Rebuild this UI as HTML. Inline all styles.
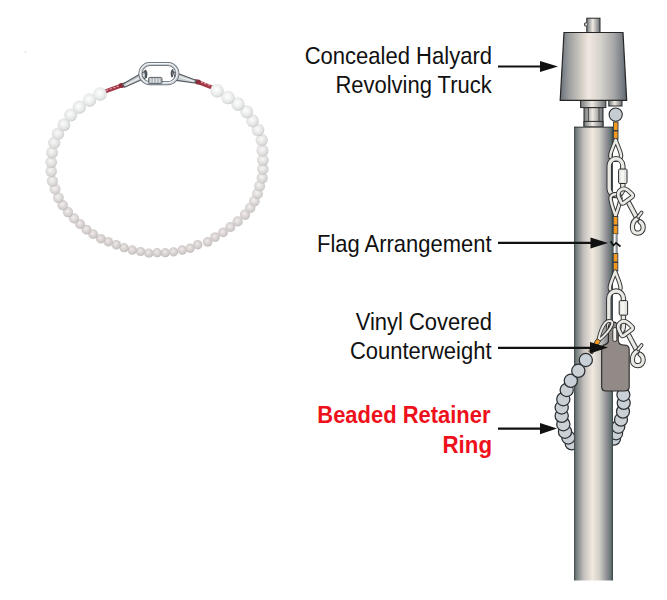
<!DOCTYPE html>
<html><head><meta charset="utf-8"><style>
html,body{margin:0;padding:0;background:#fff;}
body{width:667px;height:600px;overflow:hidden;position:relative;}
svg{position:absolute;left:0;top:0;}
.t{font-family:"Liberation Sans",sans-serif;font-size:24.4px;fill:#111111;}
.r{font-family:"Liberation Sans",sans-serif;font-size:24.4px;font-weight:bold;fill:#ee111b;}
</style></head><body>
<svg width="667" height="600" viewBox="0 0 667 600">
<defs>
<radialGradient id="b27" cx="0.45" cy="0.42" r="0.62"><stop offset="0" stop-color="#efebea"/><stop offset="0.5" stop-color="#d8d2d1"/><stop offset="0.82" stop-color="#cbc5c4"/><stop offset="1" stop-color="#a39c9b"/></radialGradient>
<radialGradient id="b25" cx="0.45" cy="0.42" r="0.62"><stop offset="0" stop-color="#efebea"/><stop offset="0.5" stop-color="#d8d2d1"/><stop offset="0.82" stop-color="#cbc5c4"/><stop offset="1" stop-color="#a39c9b"/></radialGradient>
<radialGradient id="b26" cx="0.45" cy="0.42" r="0.62"><stop offset="0" stop-color="#efebea"/><stop offset="0.5" stop-color="#d8d2d1"/><stop offset="0.82" stop-color="#cbc5c4"/><stop offset="1" stop-color="#a39c9b"/></radialGradient>
<radialGradient id="b24" cx="0.45" cy="0.42" r="0.62"><stop offset="0" stop-color="#efebea"/><stop offset="0.5" stop-color="#d8d2d1"/><stop offset="0.82" stop-color="#cbc5c4"/><stop offset="1" stop-color="#a39c9b"/></radialGradient>
<radialGradient id="b28" cx="0.45" cy="0.42" r="0.62"><stop offset="0" stop-color="#efebea"/><stop offset="0.5" stop-color="#d8d2d1"/><stop offset="0.82" stop-color="#cbc5c4"/><stop offset="1" stop-color="#a39c9b"/></radialGradient>
<radialGradient id="b23" cx="0.45" cy="0.42" r="0.62"><stop offset="0" stop-color="#efebea"/><stop offset="0.5" stop-color="#d8d2d1"/><stop offset="0.82" stop-color="#cbc5c4"/><stop offset="1" stop-color="#a39c9b"/></radialGradient>
<radialGradient id="b29" cx="0.45" cy="0.42" r="0.62"><stop offset="0" stop-color="#efebea"/><stop offset="0.5" stop-color="#d8d2d1"/><stop offset="0.82" stop-color="#cbc5c4"/><stop offset="1" stop-color="#a39c9b"/></radialGradient>
<radialGradient id="b22" cx="0.45" cy="0.42" r="0.62"><stop offset="0" stop-color="#efebea"/><stop offset="0.5" stop-color="#d8d2d1"/><stop offset="0.82" stop-color="#cbc5c4"/><stop offset="1" stop-color="#a39c9b"/></radialGradient>
<radialGradient id="b30" cx="0.45" cy="0.42" r="0.62"><stop offset="0" stop-color="#efebea"/><stop offset="0.5" stop-color="#d8d2d1"/><stop offset="0.82" stop-color="#cbc5c4"/><stop offset="1" stop-color="#a39c9b"/></radialGradient>
<radialGradient id="b21" cx="0.45" cy="0.42" r="0.62"><stop offset="0" stop-color="#efebea"/><stop offset="0.5" stop-color="#d8d2d1"/><stop offset="0.82" stop-color="#cbc5c4"/><stop offset="1" stop-color="#a39c9b"/></radialGradient>
<radialGradient id="b31" cx="0.45" cy="0.42" r="0.62"><stop offset="0" stop-color="#efebea"/><stop offset="0.5" stop-color="#d8d2d1"/><stop offset="0.82" stop-color="#cbc5c4"/><stop offset="1" stop-color="#a39c9b"/></radialGradient>
<radialGradient id="b20" cx="0.45" cy="0.42" r="0.62"><stop offset="0" stop-color="#efebea"/><stop offset="0.5" stop-color="#d8d2d1"/><stop offset="0.82" stop-color="#cbc5c4"/><stop offset="1" stop-color="#a39c9b"/></radialGradient>
<radialGradient id="b32" cx="0.45" cy="0.42" r="0.62"><stop offset="0" stop-color="#efebea"/><stop offset="0.5" stop-color="#d8d2d1"/><stop offset="0.82" stop-color="#cbc5c4"/><stop offset="1" stop-color="#a39c9b"/></radialGradient>
<radialGradient id="b33" cx="0.45" cy="0.42" r="0.62"><stop offset="0" stop-color="#efebea"/><stop offset="0.5" stop-color="#d8d2d1"/><stop offset="0.82" stop-color="#cbc5c4"/><stop offset="1" stop-color="#a39c9b"/></radialGradient>
<radialGradient id="b19" cx="0.45" cy="0.42" r="0.62"><stop offset="0" stop-color="#efebea"/><stop offset="0.5" stop-color="#d8d3d2"/><stop offset="0.82" stop-color="#cbc6c5"/><stop offset="1" stop-color="#a39d9c"/></radialGradient>
<radialGradient id="b34" cx="0.45" cy="0.42" r="0.62"><stop offset="0" stop-color="#f0eceb"/><stop offset="0.5" stop-color="#d9d3d2"/><stop offset="0.82" stop-color="#ccc6c5"/><stop offset="1" stop-color="#a49d9c"/></radialGradient>
<radialGradient id="b18" cx="0.45" cy="0.42" r="0.62"><stop offset="0" stop-color="#f0eceb"/><stop offset="0.5" stop-color="#d9d4d3"/><stop offset="0.82" stop-color="#ccc6c5"/><stop offset="1" stop-color="#a49d9c"/></radialGradient>
<radialGradient id="b35" cx="0.45" cy="0.42" r="0.62"><stop offset="0" stop-color="#f0ecec"/><stop offset="0.5" stop-color="#dad4d3"/><stop offset="0.82" stop-color="#ccc7c6"/><stop offset="1" stop-color="#a49e9d"/></radialGradient>
<radialGradient id="b17" cx="0.45" cy="0.42" r="0.62"><stop offset="0" stop-color="#f0edec"/><stop offset="0.5" stop-color="#dad5d4"/><stop offset="0.82" stop-color="#cdc8c7"/><stop offset="1" stop-color="#a59f9e"/></radialGradient>
<radialGradient id="b36" cx="0.45" cy="0.42" r="0.62"><stop offset="0" stop-color="#f1edec"/><stop offset="0.5" stop-color="#dad5d4"/><stop offset="0.82" stop-color="#cdc8c7"/><stop offset="1" stop-color="#a59f9e"/></radialGradient>
<radialGradient id="b16" cx="0.45" cy="0.42" r="0.62"><stop offset="0" stop-color="#f1eeed"/><stop offset="0.5" stop-color="#dbd6d5"/><stop offset="0.82" stop-color="#cdc9c8"/><stop offset="1" stop-color="#a5a09f"/></radialGradient>
<radialGradient id="b37" cx="0.45" cy="0.42" r="0.62"><stop offset="0" stop-color="#f1eeed"/><stop offset="0.5" stop-color="#dbd7d6"/><stop offset="0.82" stop-color="#cec9c8"/><stop offset="1" stop-color="#a6a09f"/></radialGradient>
<radialGradient id="b15" cx="0.45" cy="0.42" r="0.62"><stop offset="0" stop-color="#f2efee"/><stop offset="0.5" stop-color="#dcd7d6"/><stop offset="0.82" stop-color="#cecac9"/><stop offset="1" stop-color="#a6a1a0"/></radialGradient>
<radialGradient id="b38" cx="0.45" cy="0.42" r="0.62"><stop offset="0" stop-color="#f2efee"/><stop offset="0.5" stop-color="#dcd8d7"/><stop offset="0.82" stop-color="#cecac9"/><stop offset="1" stop-color="#a6a1a0"/></radialGradient>
<radialGradient id="b14" cx="0.45" cy="0.42" r="0.62"><stop offset="0" stop-color="#f3efef"/><stop offset="0.5" stop-color="#ddd9d8"/><stop offset="0.82" stop-color="#cfcbca"/><stop offset="1" stop-color="#a7a2a1"/></radialGradient>
<radialGradient id="b39" cx="0.45" cy="0.42" r="0.62"><stop offset="0" stop-color="#f3f0ef"/><stop offset="0.5" stop-color="#ddd9d8"/><stop offset="0.82" stop-color="#cfcccb"/><stop offset="1" stop-color="#a7a3a2"/></radialGradient>
<radialGradient id="b13" cx="0.45" cy="0.42" r="0.62"><stop offset="0" stop-color="#f3f0f0"/><stop offset="0.5" stop-color="#dedad9"/><stop offset="0.82" stop-color="#d0cdcc"/><stop offset="1" stop-color="#a8a4a3"/></radialGradient>
<radialGradient id="b40" cx="0.45" cy="0.42" r="0.62"><stop offset="0" stop-color="#f4f1f0"/><stop offset="0.5" stop-color="#dedbda"/><stop offset="0.82" stop-color="#d0cdcc"/><stop offset="1" stop-color="#a8a4a3"/></radialGradient>
<radialGradient id="b12" cx="0.45" cy="0.42" r="0.62"><stop offset="0" stop-color="#f4f1f1"/><stop offset="0.5" stop-color="#dfdcdb"/><stop offset="0.82" stop-color="#d1cecd"/><stop offset="1" stop-color="#a8a5a4"/></radialGradient>
<radialGradient id="b41" cx="0.45" cy="0.42" r="0.62"><stop offset="0" stop-color="#f5f2f1"/><stop offset="0.5" stop-color="#e0dddc"/><stop offset="0.82" stop-color="#d1cfce"/><stop offset="1" stop-color="#a9a6a5"/></radialGradient>
<radialGradient id="b11" cx="0.45" cy="0.42" r="0.62"><stop offset="0" stop-color="#f5f2f2"/><stop offset="0.5" stop-color="#e0dedd"/><stop offset="0.82" stop-color="#d2cfce"/><stop offset="1" stop-color="#a9a6a5"/></radialGradient>
<radialGradient id="b42" cx="0.45" cy="0.42" r="0.62"><stop offset="0" stop-color="#f6f3f3"/><stop offset="0.5" stop-color="#e1dfde"/><stop offset="0.82" stop-color="#d2d0cf"/><stop offset="1" stop-color="#aaa7a6"/></radialGradient>
<radialGradient id="b10" cx="0.45" cy="0.42" r="0.62"><stop offset="0" stop-color="#f6f4f3"/><stop offset="0.5" stop-color="#e1dfde"/><stop offset="0.82" stop-color="#d3d1d0"/><stop offset="1" stop-color="#aaa8a7"/></radialGradient>
<radialGradient id="b43" cx="0.45" cy="0.42" r="0.62"><stop offset="0" stop-color="#f7f4f4"/><stop offset="0.5" stop-color="#e2e1e0"/><stop offset="0.82" stop-color="#d4d2d1"/><stop offset="1" stop-color="#aba9a8"/></radialGradient>
<radialGradient id="b9" cx="0.45" cy="0.42" r="0.62"><stop offset="0" stop-color="#f7f5f4"/><stop offset="0.5" stop-color="#e3e1e0"/><stop offset="0.82" stop-color="#d4d3d2"/><stop offset="1" stop-color="#abaaa9"/></radialGradient>
<radialGradient id="b44" cx="0.45" cy="0.42" r="0.62"><stop offset="0" stop-color="#f8f6f5"/><stop offset="0.5" stop-color="#e4e3e2"/><stop offset="0.82" stop-color="#d5d4d3"/><stop offset="1" stop-color="#acabaa"/></radialGradient>
<radialGradient id="b8" cx="0.45" cy="0.42" r="0.62"><stop offset="0" stop-color="#f8f6f6"/><stop offset="0.5" stop-color="#e4e3e2"/><stop offset="0.82" stop-color="#d5d4d3"/><stop offset="1" stop-color="#acabaa"/></radialGradient>
<radialGradient id="b45" cx="0.45" cy="0.42" r="0.62"><stop offset="0" stop-color="#f9f7f7"/><stop offset="0.5" stop-color="#e5e5e4"/><stop offset="0.82" stop-color="#d6d6d5"/><stop offset="1" stop-color="#adadac"/></radialGradient>
<radialGradient id="b7" cx="0.45" cy="0.42" r="0.62"><stop offset="0" stop-color="#f9f7f7"/><stop offset="0.5" stop-color="#e6e5e4"/><stop offset="0.82" stop-color="#d6d6d5"/><stop offset="1" stop-color="#adadac"/></radialGradient>
<radialGradient id="b46" cx="0.45" cy="0.42" r="0.62"><stop offset="0" stop-color="#faf8f8"/><stop offset="0.5" stop-color="#e7e7e6"/><stop offset="0.82" stop-color="#d7d8d7"/><stop offset="1" stop-color="#aeafae"/></radialGradient>
<radialGradient id="b6" cx="0.45" cy="0.42" r="0.62"><stop offset="0" stop-color="#faf9f8"/><stop offset="0.5" stop-color="#e7e7e6"/><stop offset="0.82" stop-color="#d7d8d7"/><stop offset="1" stop-color="#afafae"/></radialGradient>
<radialGradient id="b47" cx="0.45" cy="0.42" r="0.62"><stop offset="0" stop-color="#fbfaf9"/><stop offset="0.5" stop-color="#e8e9e8"/><stop offset="0.82" stop-color="#d8dad9"/><stop offset="1" stop-color="#afb1b0"/></radialGradient>
<radialGradient id="b5" cx="0.45" cy="0.42" r="0.62"><stop offset="0" stop-color="#fbfafa"/><stop offset="0.5" stop-color="#e9eae9"/><stop offset="0.82" stop-color="#d9dad9"/><stop offset="1" stop-color="#b0b1b0"/></radialGradient>
<radialGradient id="b48" cx="0.45" cy="0.42" r="0.62"><stop offset="0" stop-color="#fcfbfb"/><stop offset="0.5" stop-color="#e9ebea"/><stop offset="0.82" stop-color="#d9dbda"/><stop offset="1" stop-color="#b1b2b1"/></radialGradient>
<radialGradient id="b4" cx="0.45" cy="0.42" r="0.62"><stop offset="0" stop-color="#fcfbfb"/><stop offset="0.5" stop-color="#eaebea"/><stop offset="0.82" stop-color="#dadcdb"/><stop offset="1" stop-color="#b1b3b2"/></radialGradient>
<radialGradient id="b49" cx="0.45" cy="0.42" r="0.62"><stop offset="0" stop-color="#fdfcfc"/><stop offset="0.5" stop-color="#ebedec"/><stop offset="0.82" stop-color="#dbdddc"/><stop offset="1" stop-color="#b2b4b3"/></radialGradient>
<radialGradient id="b3" cx="0.45" cy="0.42" r="0.62"><stop offset="0" stop-color="#fdfdfd"/><stop offset="0.5" stop-color="#ebedec"/><stop offset="0.82" stop-color="#dbdedd"/><stop offset="1" stop-color="#b2b5b4"/></radialGradient>
<radialGradient id="b50" cx="0.45" cy="0.42" r="0.62"><stop offset="0" stop-color="#fefdfd"/><stop offset="0.5" stop-color="#eceeed"/><stop offset="0.82" stop-color="#dbdfde"/><stop offset="1" stop-color="#b3b6b5"/></radialGradient>
<radialGradient id="b2" cx="0.45" cy="0.42" r="0.62"><stop offset="0" stop-color="#fefefe"/><stop offset="0.5" stop-color="#edefee"/><stop offset="0.82" stop-color="#dcdfde"/><stop offset="1" stop-color="#b3b6b5"/></radialGradient>
<radialGradient id="b51" cx="0.45" cy="0.42" r="0.62"><stop offset="0" stop-color="#fefefe"/><stop offset="0.5" stop-color="#edf0ef"/><stop offset="0.82" stop-color="#dce0df"/><stop offset="1" stop-color="#b3b7b6"/></radialGradient>
<radialGradient id="b1" cx="0.45" cy="0.42" r="0.62"><stop offset="0" stop-color="#ffffff"/><stop offset="0.5" stop-color="#eef0ef"/><stop offset="0.82" stop-color="#dde1e0"/><stop offset="1" stop-color="#b4b8b7"/></radialGradient>
<radialGradient id="b52" cx="0.45" cy="0.42" r="0.62"><stop offset="0" stop-color="#ffffff"/><stop offset="0.5" stop-color="#eef1f0"/><stop offset="0.82" stop-color="#dde1e0"/><stop offset="1" stop-color="#b4b8b7"/></radialGradient>
<radialGradient id="b0" cx="0.45" cy="0.42" r="0.62"><stop offset="0" stop-color="#ffffff"/><stop offset="0.5" stop-color="#eef1f0"/><stop offset="0.82" stop-color="#dde1e0"/><stop offset="1" stop-color="#b4b8b7"/></radialGradient>
<linearGradient id="pg" x1="0" x2="1" y1="0" y2="0">
<stop offset="0" stop-color="#3d4347"/><stop offset="0.05" stop-color="#6f7b79"/><stop offset="0.25" stop-color="#c4bfbd"/>
<stop offset="0.47" stop-color="#f1e9df"/><stop offset="0.65" stop-color="#d2d0c8"/><stop offset="0.85" stop-color="#8c8b92"/>
<stop offset="0.95" stop-color="#627371"/><stop offset="1" stop-color="#383d40"/></linearGradient>
<linearGradient id="tg" x1="0" x2="1" y1="0" y2="0">
<stop offset="0" stop-color="#68717a"/><stop offset="0.12" stop-color="#999b9d"/><stop offset="0.3" stop-color="#cdc9c1"/>
<stop offset="0.43" stop-color="#f0e7e0"/><stop offset="0.6" stop-color="#d6d3cc"/><stop offset="0.8" stop-color="#a9a9aa"/>
<stop offset="0.93" stop-color="#7a8086"/><stop offset="1" stop-color="#5b6269"/></linearGradient>
<linearGradient id="hg" x1="0" x2="1" y1="0" y2="0">
<stop offset="0" stop-color="#73787b"/><stop offset="0.45" stop-color="#efe9e2"/><stop offset="1" stop-color="#6a6f73"/></linearGradient>
<linearGradient id="redw" x1="0" x2="0" y1="0" y2="1"><stop offset="0" stop-color="#c2606c"/><stop offset="1" stop-color="#7a2330"/></linearGradient>
</defs>
<!-- bracelet -->
<path d="M104 91.8 L124 84.6" stroke="#a23848" stroke-width="4" stroke-linecap="round"/>
<path d="M106 90.6 L122.5 84.6" stroke="#e3a0aa" stroke-width="1.1" stroke-dasharray="2.4 1.4"/>
<path d="M195.5 81.2 L213 87.8" stroke="#a23848" stroke-width="4" stroke-linecap="round"/>
<path d="M197 80.6 L212 86.2" stroke="#e3a0aa" stroke-width="1.1" stroke-dasharray="2.4 1.4"/>
<ellipse cx="121.5" cy="85.6" rx="3" ry="2.5" fill="#8e2c3b"/>
<ellipse cx="198" cy="82" rx="3" ry="2.5" fill="#8e2c3b"/>
<path d="M122.5 84.2 L144.5 71.6 L146.5 77.6 L124.5 87.2 Z" fill="#c9cfd3" stroke="#50575c" stroke-width="1.1" stroke-linejoin="round"/>
<path d="M126 85 L144 75.5" stroke="#f4f6f7" stroke-width="1"/>
<path d="M196.5 80.4 L172.8 71.4 L176.5 80.4 L194.5 83 Z" fill="#c9cfd3" stroke="#50575c" stroke-width="1.1" stroke-linejoin="round"/>
<path d="M193.5 81.2 L176 76" stroke="#f4f6f7" stroke-width="1"/>
<rect x="140.4" y="64" width="37" height="19.2" rx="9.6" fill="none" stroke="#5a6168" stroke-width="4"/>
<rect x="140.4" y="64" width="37" height="19.2" rx="9.6" fill="none" stroke="#c3cad0" stroke-width="2.6"/>
<rect x="140.2" y="63.6" width="37" height="19.2" rx="9.6" fill="none" stroke="#fbfcfd" stroke-width="1"/>
<path d="M145 70 Q147.5 73.5 145.5 77.5" stroke="#4a5055" stroke-width="2" fill="none"/>
<path d="M173 69.5 Q170.5 73 172.5 77" stroke="#4a5055" stroke-width="2" fill="none"/>
<rect x="148.6" y="77.4" width="13.4" height="6.2" rx="1.2" fill="#b3b9bd" stroke="#50575c" stroke-width="0.9"/>
<path d="M150.8 78.6 V82.6 M153.6 78.6 V82.6 M156.4 78.6 V82.6 M159.2 78.6 V82.6" stroke="#eef1f3" stroke-width="0.9"/>
<circle cx="148.7" cy="253" r="4.60" fill="url(#b27)"/>
<circle cx="165.2" cy="252.7" r="4.60" fill="url(#b25)"/>
<circle cx="157" cy="252.7" r="4.60" fill="url(#b26)"/>
<circle cx="173.5" cy="251.8" r="4.62" fill="url(#b24)"/>
<circle cx="140.5" cy="251.5" r="4.62" fill="url(#b28)"/>
<circle cx="182.2" cy="250" r="4.64" fill="url(#b23)"/>
<circle cx="132.2" cy="250" r="4.64" fill="url(#b29)"/>
<circle cx="190" cy="248.2" r="4.67" fill="url(#b22)"/>
<circle cx="124" cy="247.7" r="4.67" fill="url(#b30)"/>
<circle cx="197.7" cy="244.7" r="4.71" fill="url(#b21)"/>
<circle cx="116.2" cy="244.7" r="4.71" fill="url(#b31)"/>
<circle cx="207.6" cy="241.8" r="4.75" fill="url(#b20)"/>
<circle cx="108.2" cy="241.7" r="4.75" fill="url(#b32)"/>
<circle cx="100.7" cy="238.7" r="4.80" fill="url(#b33)"/>
<circle cx="215" cy="237" r="4.82" fill="url(#b19)"/>
<circle cx="93" cy="234" r="4.86" fill="url(#b34)"/>
<circle cx="223" cy="232.4" r="4.88" fill="url(#b18)"/>
<circle cx="86.4" cy="229.6" r="4.92" fill="url(#b35)"/>
<circle cx="230.3" cy="227" r="4.96" fill="url(#b17)"/>
<circle cx="80" cy="224" r="5.00" fill="url(#b36)"/>
<circle cx="237.6" cy="221.4" r="5.03" fill="url(#b16)"/>
<circle cx="74" cy="218.4" r="5.07" fill="url(#b37)"/>
<circle cx="245" cy="214.5" r="5.13" fill="url(#b15)"/>
<circle cx="68" cy="212" r="5.16" fill="url(#b38)"/>
<circle cx="250.2" cy="207.6" r="5.22" fill="url(#b14)"/>
<circle cx="62.6" cy="205" r="5.26" fill="url(#b39)"/>
<circle cx="254.4" cy="200.9" r="5.31" fill="url(#b13)"/>
<circle cx="58.4" cy="197.6" r="5.36" fill="url(#b40)"/>
<circle cx="257.5" cy="193.5" r="5.41" fill="url(#b12)"/>
<circle cx="55" cy="189" r="5.47" fill="url(#b41)"/>
<circle cx="259.6" cy="185.8" r="5.52" fill="url(#b11)"/>
<circle cx="52.4" cy="181" r="5.58" fill="url(#b42)"/>
<circle cx="262.2" cy="177.8" r="5.63" fill="url(#b10)"/>
<circle cx="51.2" cy="171.2" r="5.72" fill="url(#b43)"/>
<circle cx="262.8" cy="169" r="5.75" fill="url(#b9)"/>
<circle cx="51.2" cy="162.2" r="5.84" fill="url(#b44)"/>
<circle cx="262.8" cy="160" r="5.87" fill="url(#b8)"/>
<circle cx="52" cy="152.5" r="5.97" fill="url(#b45)"/>
<circle cx="262.5" cy="150.5" r="6.00" fill="url(#b7)"/>
<circle cx="54.2" cy="142.7" r="6.11" fill="url(#b46)"/>
<circle cx="261.7" cy="140" r="6.14" fill="url(#b6)"/>
<circle cx="58" cy="133.7" r="6.23" fill="url(#b47)"/>
<circle cx="258" cy="130" r="6.28" fill="url(#b5)"/>
<circle cx="64" cy="124.7" r="6.35" fill="url(#b48)"/>
<circle cx="252.5" cy="120.8" r="6.41" fill="url(#b4)"/>
<circle cx="70.7" cy="115" r="6.49" fill="url(#b49)"/>
<circle cx="246.7" cy="111.7" r="6.53" fill="url(#b3)"/>
<circle cx="79.3" cy="107.2" r="6.59" fill="url(#b50)"/>
<circle cx="238" cy="104" r="6.64" fill="url(#b2)"/>
<circle cx="89.5" cy="100" r="6.69" fill="url(#b51)"/>
<circle cx="228" cy="97.5" r="6.72" fill="url(#b1)"/>
<circle cx="100" cy="94" r="6.77" fill="url(#b52)"/>
<circle cx="217" cy="90.8" r="6.80" fill="url(#b0)"/>
<circle cx="25.5" cy="52" r="0.8" fill="#d6d6d6"/>
<!-- truck + pole -->
<rect x="586.8" y="18.2" width="13.2" height="14.6" fill="url(#hg)" stroke="#2a2a2a" stroke-width="1"/>
<path d="M587 22.6 L584.6 23.2 L584.6 25.8 L587 26.2" fill="#d8d6d2" stroke="#2a2a2a" stroke-width="0.9"/>
<rect x="584" y="107.6" width="19" height="19.2" fill="url(#hg)" stroke="#2a2a2a" stroke-width="1"/>
<path d="M588.4 107.6 V121.4 M599 107.6 V121.4" stroke="#3a3a3a" stroke-width="0.9"/>
<rect x="584" y="121.4" width="19" height="5.4" fill="url(#hg)" stroke="#2a2a2a" stroke-width="1"/>
<rect x="580.6" y="100.4" width="25.2" height="7.2" fill="url(#hg)" stroke="#2a2a2a" stroke-width="1"/>
<path d="M564 32.5 L623 32.5 L626.7 100.4 L560.2 100.4 Z" fill="url(#tg)" stroke="#262626" stroke-width="1.2"/>
<circle cx="614" cy="438.7" r="6.5" fill="#c9d1d6" stroke="#2b2f33" stroke-width="1.25"/>
<circle cx="616.1" cy="433.3" r="6.5" fill="#c9d1d6" stroke="#2b2f33" stroke-width="1.25"/>
<circle cx="618.3" cy="426.8" r="6.5" fill="#c9d1d6" stroke="#2b2f33" stroke-width="1.25"/>
<circle cx="621" cy="419.7" r="6.5" fill="#c9d1d6" stroke="#2b2f33" stroke-width="1.25"/>
<circle cx="623" cy="411.6" r="6.5" fill="#c9d1d6" stroke="#2b2f33" stroke-width="1.25"/>
<circle cx="623.7" cy="402.9" r="6.5" fill="#c9d1d6" stroke="#2b2f33" stroke-width="1.25"/>
<circle cx="623.4" cy="394.8" r="6.5" fill="#c9d1d6" stroke="#2b2f33" stroke-width="1.25"/>
<circle cx="571.7" cy="443.3" r="6.6" fill="#c9d1d6" stroke="#2b2f33" stroke-width="1.25"/>
<circle cx="568.3" cy="437.5" r="6.6" fill="#c9d1d6" stroke="#2b2f33" stroke-width="1.25"/>
<rect x="574" y="126.8" width="39" height="453.7" fill="url(#pg)"/><path d="M574 127.2 H613" stroke="#2e3236" stroke-width="0.9"/>
<rect x="608.8" y="100.4" width="13.2" height="5.6" fill="url(#hg)" stroke="#2a2a2a" stroke-width="1"/>
<circle cx="615.7" cy="114.6" r="6.6" fill="#c6cdd2" stroke="#2a2c2e" stroke-width="1.1"/>
<rect x="613.5" y="122" width="4.5" height="8.5" fill="#f39a1f" stroke="#2d3a45" stroke-width="0.9"/>
<rect x="613.5" y="131" width="4.5" height="8.5" fill="#f39a1f" stroke="#2d3a45" stroke-width="0.9"/>
<path d="M615.7 140 C613.7 146 610.3000000000001 152 610.3000000000001 156 C610.3000000000001 161 621.1 161 621.1 156 C621.1 152 617.7 146 615.7 140 Z" fill="none" stroke="#333537" stroke-width="4.4" stroke-linecap="round" stroke-linejoin="round"/><path d="M615.7 140 C613.7 146 610.3000000000001 152 610.3000000000001 156 C610.3000000000001 161 621.1 161 621.1 156 C621.1 152 617.7 146 615.7 140 Z" fill="none" stroke="#ebe9e4" stroke-width="2.4" stroke-linecap="round" stroke-linejoin="round"/>
<path d="M609.2 165.59999999999997 A6.7999999999999545 6.7999999999999545 0 0 1 622.8 165.59999999999997 L622.8 188.70000000000005 A6.7999999999999545 6.7999999999999545 0 0 1 609.2 188.70000000000005 Z" fill="none" stroke="#333537" stroke-width="5.4" stroke-linecap="round" stroke-linejoin="round"/><path d="M609.2 165.59999999999997 A6.7999999999999545 6.7999999999999545 0 0 1 622.8 165.59999999999997 L622.8 188.70000000000005 A6.7999999999999545 6.7999999999999545 0 0 1 609.2 188.70000000000005 Z" fill="none" stroke="#ebe9e4" stroke-width="3.4" stroke-linecap="round" stroke-linejoin="round"/><rect x="618.5999999999999" y="169" width="8.4" height="14.5" rx="1.2" fill="#e6e4e0" stroke="#2a2c2e" stroke-width="1"/><rect x="620.5999999999999" y="170.5" width="3.4" height="11.5" fill="#f6f5f2"/>
<path d="M615.5 216 C613.5 210 610.5 202 610.5 198 C610.5 193 620.5 193 620.5 198 C620.5 202 617.5 210 615.5 216 Z" fill="none" stroke="#333537" stroke-width="4.4" stroke-linecap="round" stroke-linejoin="round"/><path d="M615.5 216 C613.5 210 610.5 202 610.5 198 C610.5 193 620.5 193 620.5 198 C620.5 202 617.5 210 615.5 216 Z" fill="none" stroke="#ebe9e4" stroke-width="2.4" stroke-linecap="round" stroke-linejoin="round"/>
<g transform="translate(0 0)"><path d="M628.3 202 L637 218.2" fill="none" stroke="#333537" stroke-width="5.4" stroke-linecap="butt" stroke-linejoin="round"/><path d="M628.3 202 L637 218.2" fill="none" stroke="#ebe9e4" stroke-width="3.4" stroke-linecap="butt" stroke-linejoin="round"/><path d="M637.2 218.6 C633.5 220.5 632.4 224.5 632.4 227.5 C632.5 231.5 635 233.2 637.8 233.2 C641 233.2 643.2 230.5 643.2 227.5 C643.2 224.8 641.8 222.8 640.2 221.8" fill="none" stroke="#333537" stroke-width="5.2" stroke-linecap="round" stroke-linejoin="round"/><path d="M637.2 218.6 C633.5 220.5 632.4 224.5 632.4 227.5 C632.5 231.5 635 233.2 637.8 233.2 C641 233.2 643.2 230.5 643.2 227.5 C643.2 224.8 641.8 222.8 640.2 221.8" fill="none" stroke="#ebe9e4" stroke-width="3.2" stroke-linecap="round" stroke-linejoin="round"/><path d="M638.2 216.8 L641.6 212.6" fill="none" stroke="#333537" stroke-width="3.8" stroke-linecap="round" stroke-linejoin="round"/><path d="M638.2 216.8 L641.6 212.6" fill="none" stroke="#ebe9e4" stroke-width="1.9" stroke-linecap="round" stroke-linejoin="round"/><g transform="translate(625 196) rotate(-36) scale(0.88)"><path d="M-6 5.5 L6 5.5 Q8 5.5 7.7 3 L6.5 -3 Q5 -8.5 0 -8.5 Q-5 -8.5 -6.5 -3 L-7.7 3 Q-8 5.5 -6 5.5 Z" fill="none" stroke="#333537" stroke-width="5.3" stroke-linecap="round" stroke-linejoin="round"/><path d="M-6 5.5 L6 5.5 Q8 5.5 7.7 3 L6.5 -3 Q5 -8.5 0 -8.5 Q-5 -8.5 -6.5 -3 L-7.7 3 Q-8 5.5 -6 5.5 Z" fill="none" stroke="#ebe9e4" stroke-width="3.2" stroke-linecap="round" stroke-linejoin="round"/></g></g>
<rect x="613.3" y="216.5" width="4.5" height="8.5" fill="#f39a1f" stroke="#2d3a45" stroke-width="0.9"/>
<rect x="613.3" y="225.5" width="4.5" height="8.5" fill="#f39a1f" stroke="#2d3a45" stroke-width="0.9"/>
<rect x="612.8" y="234" width="5" height="19.5" fill="#8d9396"/><rect x="614" y="234" width="1.6" height="19.5" fill="#f4f4f4"/>
<rect x="613.3" y="253.5" width="4.5" height="8.5" fill="#f39a1f" stroke="#2d3a45" stroke-width="0.9"/>
<rect x="613.3" y="262.5" width="4.5" height="8.5" fill="#f39a1f" stroke="#2d3a45" stroke-width="0.9"/>
<path d="M615.2 271.5 C613.2 277.5 609.8000000000001 284 609.8000000000001 288 C609.8000000000001 293 620.6 293 620.6 288 C620.6 284 617.2 277.5 615.2 271.5 Z" fill="none" stroke="#333537" stroke-width="4.4" stroke-linecap="round" stroke-linejoin="round"/><path d="M615.2 271.5 C613.2 277.5 609.8000000000001 284 609.8000000000001 288 C609.8000000000001 293 620.6 293 620.6 288 C620.6 284 617.2 277.5 615.2 271.5 Z" fill="none" stroke="#ebe9e4" stroke-width="2.4" stroke-linecap="round" stroke-linejoin="round"/>
<path d="M608.8 298.3 A7.300000000000011 7.300000000000011 0 0 1 623.4 298.3 L623.4 326.7 A7.300000000000011 7.300000000000011 0 0 1 608.8 326.7 Z" fill="none" stroke="#333537" stroke-width="5.4" stroke-linecap="round" stroke-linejoin="round"/><path d="M608.8 298.3 A7.300000000000011 7.300000000000011 0 0 1 623.4 298.3 L623.4 326.7 A7.300000000000011 7.300000000000011 0 0 1 608.8 326.7 Z" fill="none" stroke="#ebe9e4" stroke-width="3.4" stroke-linecap="round" stroke-linejoin="round"/><rect x="619.1999999999999" y="300.6" width="8.4" height="14.599999999999966" rx="1.2" fill="#e6e4e0" stroke="#2a2c2e" stroke-width="1"/><rect x="621.1999999999999" y="302.1" width="3.4" height="11.599999999999966" fill="#f6f5f2"/>
<path d="M608.4 341 L608.4 327 C608.4 320.5 618.2 320.5 618.2 327 L618.2 340 C618.2 343.5 620.5 345 624 345 C627.5 345 629.2 346.5 629.2 349.5 L629.2 387 C629.2 390 627.5 391 624 391 L606 391 C602.7 391 601.7 390 601.7 387 L601.7 349.5 C601.7 346 603 345 605 344.6 C607 344 608.4 343 608.4 341 Z" fill="#918a86" stroke="#2a2826" stroke-width="1.1"/>
<rect x="612.8" y="327.5" width="4" height="14" rx="2" fill="#f2f0ec" stroke="#2a2826" stroke-width="0.9"/>
<path d="M598.2 340.8 C599.5 334 602.5 326 605.5 322.8 C607.8 320.2 612.6 320.4 612.3 323.6 C611.5 328 604.5 336 598.2 340.8 Z" fill="none" stroke="#333537" stroke-width="3.8" stroke-linecap="round" stroke-linejoin="round"/><path d="M598.2 340.8 C599.5 334 602.5 326 605.5 322.8 C607.8 320.2 612.6 320.4 612.3 323.6 C611.5 328 604.5 336 598.2 340.8 Z" fill="none" stroke="#ebe9e4" stroke-width="2.0" stroke-linecap="round" stroke-linejoin="round"/><path d="M597 338.6 L600.6 341.2 L596.6 347.2 L593 344.6 Z M592.7 345.2 L596.3 347.8 L592.3 354 L588.7 351.4 Z" fill="#f39a1f" stroke="#2d3a45" stroke-width="0.9"/>
<g transform="translate(0 132.5)"><path d="M628.3 202 L637 218.2" fill="none" stroke="#333537" stroke-width="5.4" stroke-linecap="butt" stroke-linejoin="round"/><path d="M628.3 202 L637 218.2" fill="none" stroke="#ebe9e4" stroke-width="3.4" stroke-linecap="butt" stroke-linejoin="round"/><path d="M637.2 218.6 C633.5 220.5 632.4 224.5 632.4 227.5 C632.5 231.5 635 233.2 637.8 233.2 C641 233.2 643.2 230.5 643.2 227.5 C643.2 224.8 641.8 222.8 640.2 221.8" fill="none" stroke="#333537" stroke-width="5.2" stroke-linecap="round" stroke-linejoin="round"/><path d="M637.2 218.6 C633.5 220.5 632.4 224.5 632.4 227.5 C632.5 231.5 635 233.2 637.8 233.2 C641 233.2 643.2 230.5 643.2 227.5 C643.2 224.8 641.8 222.8 640.2 221.8" fill="none" stroke="#ebe9e4" stroke-width="3.2" stroke-linecap="round" stroke-linejoin="round"/><path d="M638.2 216.8 L641.6 212.6" fill="none" stroke="#333537" stroke-width="3.8" stroke-linecap="round" stroke-linejoin="round"/><path d="M638.2 216.8 L641.6 212.6" fill="none" stroke="#ebe9e4" stroke-width="1.9" stroke-linecap="round" stroke-linejoin="round"/><g transform="translate(625 196) rotate(-36) scale(0.88)"><path d="M-6 5.5 L6 5.5 Q8 5.5 7.7 3 L6.5 -3 Q5 -8.5 0 -8.5 Q-5 -8.5 -6.5 -3 L-7.7 3 Q-8 5.5 -6 5.5 Z" fill="none" stroke="#333537" stroke-width="5.3" stroke-linecap="round" stroke-linejoin="round"/><path d="M-6 5.5 L6 5.5 Q8 5.5 7.7 3 L6.5 -3 Q5 -8.5 0 -8.5 Q-5 -8.5 -6.5 -3 L-7.7 3 Q-8 5.5 -6 5.5 Z" fill="none" stroke="#ebe9e4" stroke-width="3.2" stroke-linecap="round" stroke-linejoin="round"/></g></g>
<circle cx="565" cy="431.7" r="6.6" fill="#c9d1d6" stroke="#2b2f33" stroke-width="1.25"/>
<circle cx="563.3" cy="424.2" r="6.6" fill="#c9d1d6" stroke="#2b2f33" stroke-width="1.25"/>
<circle cx="561.7" cy="415.8" r="6.6" fill="#c9d1d6" stroke="#2b2f33" stroke-width="1.25"/>
<circle cx="561.7" cy="407.5" r="6.6" fill="#c9d1d6" stroke="#2b2f33" stroke-width="1.25"/>
<circle cx="563.3" cy="399.2" r="6.6" fill="#c9d1d6" stroke="#2b2f33" stroke-width="1.25"/>
<circle cx="566.7" cy="390" r="6.6" fill="#c9d1d6" stroke="#2b2f33" stroke-width="1.25"/>
<circle cx="570.8" cy="380.8" r="6.6" fill="#c9d1d6" stroke="#2b2f33" stroke-width="1.25"/>
<circle cx="578.3" cy="370.8" r="6.6" fill="#c9d1d6" stroke="#2b2f33" stroke-width="1.25"/>
<circle cx="585.8" cy="360" r="6.6" fill="#c9d1d6" stroke="#2b2f33" stroke-width="1.25"/>
<!-- arrows -->
<path d="M498 66.5 H541" stroke="#111" stroke-width="2.2"/><path d="M540 61 L558 66.5 L540 72 Z" fill="#111"/>
<path d="M498 242.8 H592" stroke="#111" stroke-width="2.2"/><path d="M590.5 237.5 L608 243 L590.5 248.5 Z" fill="#111"/>
<path d="M610.5 241.3 L613.5 245.5 L616 242.8 L620.5 246.5" fill="none" stroke="#111" stroke-width="1.7"/>
<path d="M498 347.8 H592" stroke="#111" stroke-width="2.2"/><path d="M590 342 L608 347.6 L590 353.5 Z" fill="#111"/>
<path d="M498 428.7 H542" stroke="#111" stroke-width="2.2"/><path d="M540 423 L557 428.6 L540 434.2 Z" fill="#111"/>
<!-- text -->
<text class="t" x="492" y="63.6" text-anchor="end" textLength="187.3" lengthAdjust="spacingAndGlyphs">Concealed Halyard</text>
<text class="t" x="491.7" y="93.1" text-anchor="end" textLength="156.3" lengthAdjust="spacingAndGlyphs">Revolving Truck</text>
<text class="t" x="491.5" y="251.5" text-anchor="end" textLength="174.5" lengthAdjust="spacingAndGlyphs">Flag Arrangement</text>
<text class="t" x="492" y="329.8" text-anchor="end" textLength="136.3" lengthAdjust="spacingAndGlyphs">Vinyl Covered</text>
<text class="t" x="491.5" y="359.2" text-anchor="end" textLength="141.6" lengthAdjust="spacingAndGlyphs">Counterweight</text>
<text class="r" x="490.5" y="423.4" text-anchor="end" textLength="173.2" lengthAdjust="spacingAndGlyphs">Beaded Retainer</text>
<text class="r" x="492" y="452.9" text-anchor="end" textLength="49.5" lengthAdjust="spacingAndGlyphs">Ring</text>
</svg>
</body></html>
